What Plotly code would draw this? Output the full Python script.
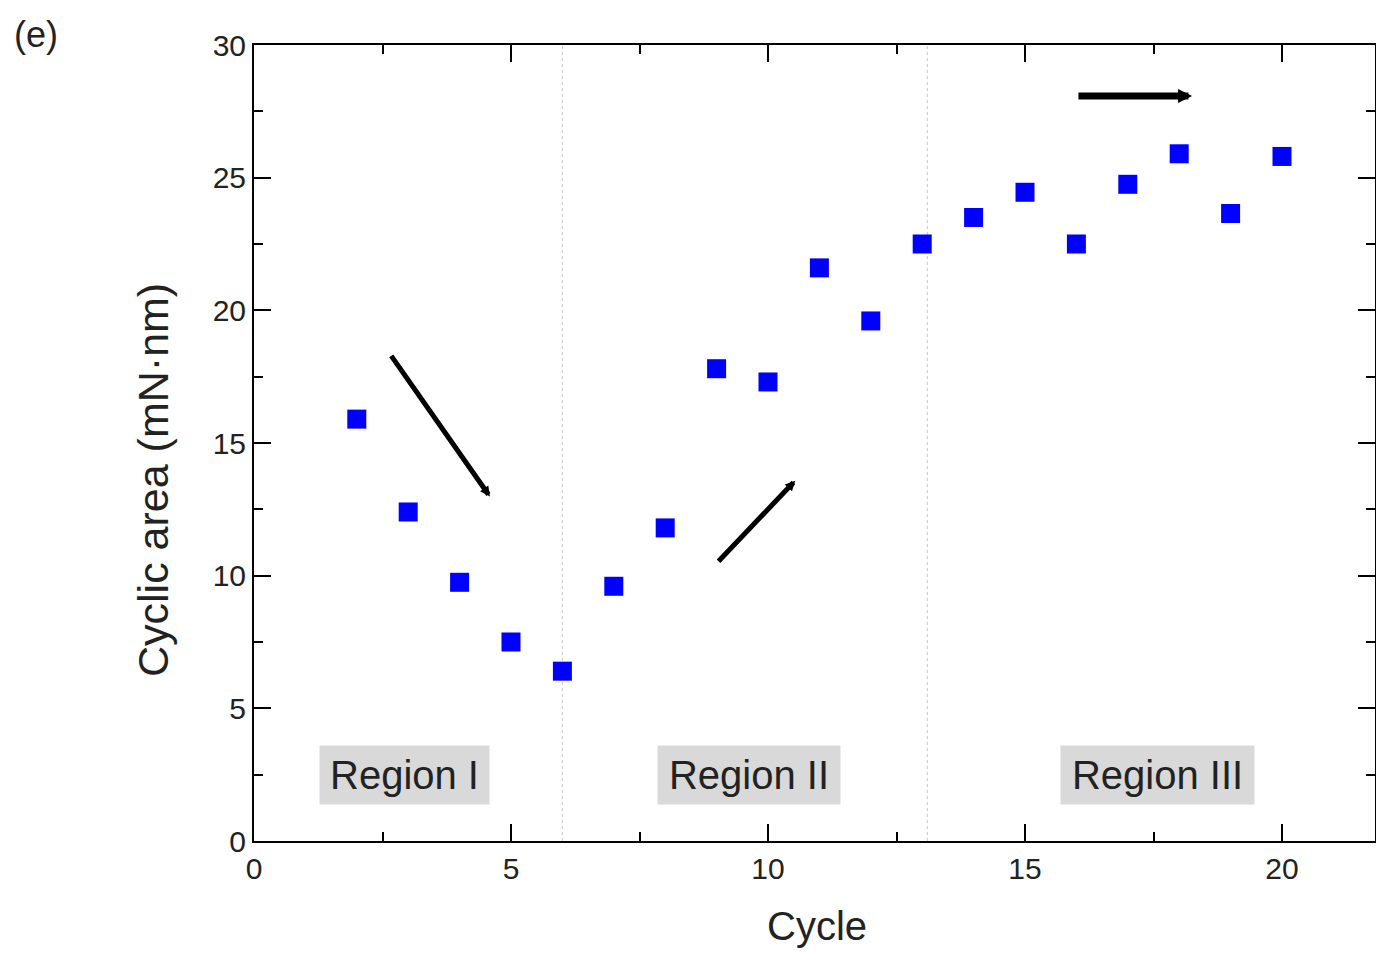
import plotly.graph_objects as go

cycles = [2, 3, 4, 5, 6, 7, 8, 9, 10, 11, 12, 13, 14, 15, 16, 17, 18, 19, 20]
cyclic_area = [15.9, 12.4, 9.75, 7.5, 6.4, 9.6, 11.8, 17.8, 17.3, 21.6, 19.6, 22.5,
               23.5, 24.45, 22.5, 24.75, 25.9, 23.65, 25.8]
region_names = ["Region I", "Region II", "Region III"]
region_x = [2.92, 9.63, 17.57]
region_y = [2.5, 2.5, 2.5]
region_w = [165, 178, 189]
boundaries = [6, 13.1]
# arrows: (tail_x, tail_y, head_x, head_y)
arrows = [(2.65, 18.34, 4.59, 12.98), (9.01, 10.49, 10.53, 13.58), (16.01, 28.08, 18.25, 28.08)]
arrow_widths = [5, 5, 7]

FONT = "Liberation Sans, Arial, sans-serif"
TXT = "#222222"

# target plot area in screen pixels (page has an 8px body offset)
OFF = 8
PL, PR, PT, PB = 254, 1375, 45, 841
W, H = 1368, 943
PW, PH = PR - PL, PB - PT
FIG_BOTTOM = OFF + H
X_MAX = 20 * (PR - PL) / (1282 - PL)

fig = go.Figure()
fig.add_trace(go.Scatter(
    x=cycles, y=cyclic_area, mode="markers",
    marker=dict(symbol="square", size=19, color="#0000ff", line=dict(width=0)),
    showlegend=False,
))

for b in boundaries:
    fig.add_shape(type="line", xref="x", yref="paper", x0=b, x1=b, y0=0, y1=1,
                  line=dict(color="#c8c8c8", width=1, dash="dot"), layer="below")

annotations = []
for name, rx, ry, w in zip(region_names, region_x, region_y, region_w):
    annotations.append(dict(x=rx, y=ry, xref="x", yref="y", text=name, showarrow=False,
                            font=dict(family=FONT, size=40, color=TXT),
                            bgcolor="#d9d9d9", width=w, height=54, borderpad=2))
for (tx, ty, hx, hy), aw in zip(arrows, arrow_widths):
    annotations.append(dict(x=hx, y=hy, ax=tx, ay=ty, xref="x", yref="y", axref="x", ayref="y",
                            text="", showarrow=True, arrowhead=2, arrowsize=0.4,
                            arrowwidth=aw, arrowcolor="#000000"))
# panel label
annotations.append(dict(x=(12 - PL) / PW, y=(PB - 12) / PH, xref="paper", yref="paper",
                        xanchor="left", yanchor="top", text="(e)", showarrow=False,
                        font=dict(family=FONT, size=36, color=TXT)))
# y-axis title
annotations.append(dict(x=(153 - PL) / PW, y=(PB - 480) / PH, xref="paper", yref="paper",
                        xanchor="center", yanchor="middle", text="Cyclic area (mN·nm)",
                        textangle=-90, showarrow=False,
                        font=dict(family=FONT, size=43, color=TXT)))
# x-axis title (kept inside the figure)
annotations.append(dict(x=(817 - PL) / PW, y=(PB - FIG_BOTTOM + 1) / PH, xref="paper", yref="paper",
                        xanchor="center", yanchor="bottom", text="Cycle", showarrow=False,
                        font=dict(family=FONT, size=40, color=TXT)))

fig.update_layout(
    width=W, height=H,
    margin=dict(l=PL - OFF, r=W + OFF - PR, t=PT - OFF, b=H + OFF - PB, autoexpand=False),
    paper_bgcolor="white", plot_bgcolor="white",
    font=dict(family=FONT, size=30, color=TXT),
    annotations=annotations,
)

fig.update_xaxes(
    range=[0, X_MAX], tickvals=[0, 5, 10, 15, 20], ticks="inside", ticklen=17, tickwidth=2,
    tickcolor="black", showline=True, linecolor="black", linewidth=2, mirror="ticks",
    showgrid=False, zeroline=False,
    minor=dict(ticks="inside", ticklen=9, tickwidth=2, tickcolor="black", dtick=2.5, tick0=0),
    tickfont=dict(family=FONT, size=30, color=TXT),
)
fig.update_yaxes(
    range=[0, 30], tickvals=[0, 5, 10, 15, 20, 25, 30], ticks="inside", ticklen=17, tickwidth=2,
    tickcolor="black", showline=True, linecolor="black", linewidth=2, mirror="ticks",
    showgrid=False, zeroline=False,
    minor=dict(ticks="inside", ticklen=9, tickwidth=2, tickcolor="black", dtick=2.5, tick0=0),
    tickfont=dict(family=FONT, size=30, color=TXT),
)

fig.write_html("out.html")
